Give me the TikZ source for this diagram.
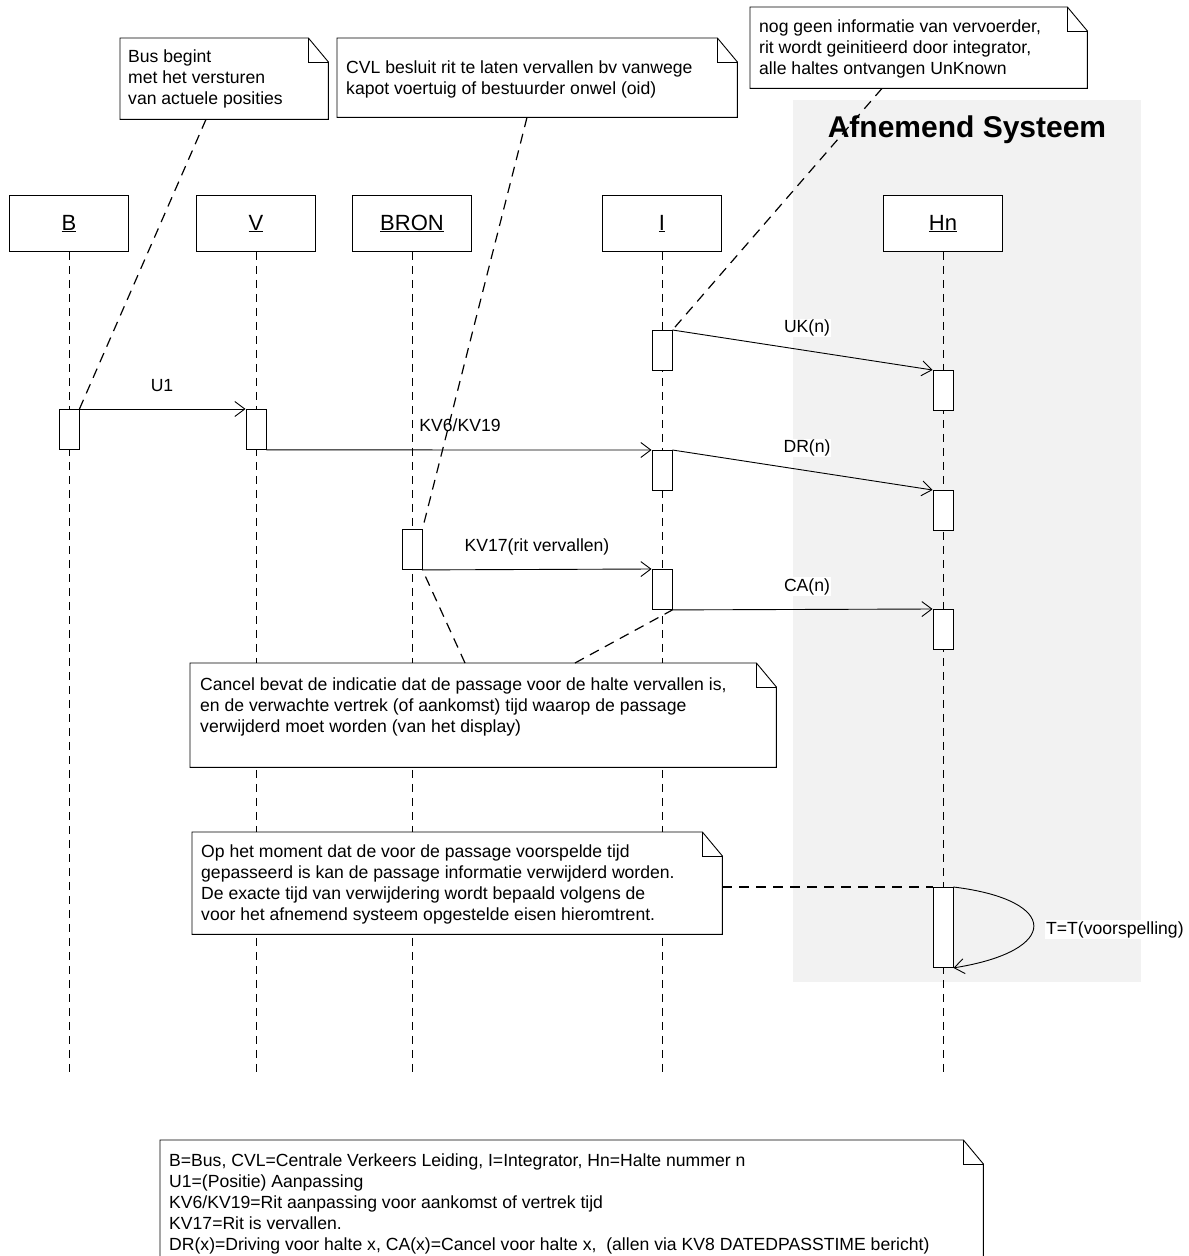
\documentclass[tikz,border=0pt]{standalone}
\usepackage{fontspec}
\setmainfont{Liberation Sans}
\usetikzlibrary{arrows.meta,calc}
\definecolor{sysgray}{RGB}{242,242,242}
\newcommand\dogear[1]{%
  \draw[noteline] (#1.north west) -- ([xshift=-20pt]#1.north east) -- ([yshift=-24pt]#1.north east) -- (#1.south east) -- (#1.south west) -- cycle;
  \draw[noteline] ([xshift=-20pt]#1.north east) -- ([xshift=-20pt,yshift=-24pt]#1.north east) -- ([yshift=-24pt]#1.north east);}
\begin{document}
\begin{tikzpicture}[x=1pt,y=-1pt,
  txt/.style={font=\fontsize{17.6}{20.8}\selectfont},
  head/.style={draw, fill=white, line width=0.9pt, minimum width=119pt, minimum height=56pt, inner sep=0pt, anchor=north, font=\fontsize{22}{26}\selectfont},
  life/.style={line width=0.8pt, dash pattern=on 8pt off 6pt},
  act/.style={draw, fill=white, line width=0.9pt, minimum width=20pt, minimum height=40pt, inner sep=0pt, anchor=north},
  msg/.style={line width=0.9pt, -{Straight Barb[length=10pt,width=15pt,line width=0.9pt]}},
  mlabel/.style={txt, fill=white, inner sep=1pt, anchor=base},
  link/.style={line width=1.2pt, dash pattern=on 10pt off 7pt},
  noteline/.style={line width=0.9pt},
  notebox/.style 2 args={fill=white, inner sep=0pt, anchor=north west, minimum width=#1pt, minimum height=#2pt},
  notetext/.style={txt, inner sep=0pt, anchor=north west, align=left}
]
\useasboundingbox (0,0) rectangle (1189,1256);
\fill[white] (0,0) rectangle (1189,1256);

% system region
\fill[sysgray] (793,100) rectangle (1141,982);
\node[font=\bfseries\fontsize{30}{36}\selectfont, anchor=base] (title) at (967,137.7) {Afnemend Systeem};

% lifeline heads
\coordinate (bot) at (0,1073);
\node[head] (hB) at (69,195) {\underline{B}};
\node[head] (hV) at (256,195) {\underline{V}};
\node[head] (hBR) at (412,195) {\underline{BRON}};
\node[head] (hI) at (662,195) {\underline{I}};
\node[head] (hH) at (943,195) {\underline{Hn}};

\foreach \h in {hB,hV,hBR,hI,hH}
  \draw[life] (\h.south) -- (\h.south |- bot);

% notes
\node[notebox={208}{81}] (n1) at (120,38) {};
\dogear{n1}
\node[notetext] (n1t) at (128,50) {Bus begint\\met het versturen\\van actuele posities};

\node[notebox={400}{79}] (n2) at (337,38) {};
\dogear{n2}
\node[notetext] (n2t) at (346,61) {CVL besluit rit te laten vervallen bv vanwege\\kapot voertuig of bestuurder onwel (oid)};

\node[notebox={337}{81}] (n3) at (750,7) {};
\dogear{n3}
\node[notetext] (n3t) at (759,20) {nog geen informatie van vervoerder,\\rit wordt geinitieerd door integrator,\\alle haltes ontvangen UnKnown};

\node[notebox={586}{104}] (n4) at (190,663) {};
\dogear{n4}
\node[notetext] (n4t) at (200,678) {Cancel bevat de indicatie dat de passage voor de halte vervallen is,\\en de verwachte vertrek (of aankomst) tijd waarop de passage\\verwijderd moet worden (van het display)};

\node[notebox={530}{102}] (n5) at (192,832) {};
\dogear{n5}
\node[notetext] (n5t) at (201,845) {Op het moment dat de voor de passage voorspelde tijd\\gepasseerd is kan de passage informatie verwijderd worden.\\De exacte tijd van verwijdering wordt bepaald volgens de\\voor het afnemend systeem opgestelde eisen hieromtrent.};

\node[notebox={823}{130}] (n6) at (160,1140) {};
\dogear{n6}
\node[notetext] (n6t) at (169,1154) {B=Bus, CVL=Centrale Verkeers Leiding, I=Integrator, Hn=Halte nummer n\\U1=(Positie) Aanpassing\\KV6/KV19=Rit aanpassing voor aankomst of vertrek tijd\\KV17=Rit is vervallen.\\DR(x)=Driving voor halte x, CA(x)=Cancel voor halte x,\ \ (allen via KV8 DATEDPASSTIME bericht)};

% activations
\node[act] (b1) at (69,409) {};
\node[act] (v1) at (256,409) {};
\node[act] (br1) at (412,529) {};
\node[act] (i1) at (662,330) {};
\node[act] (i2) at (662,450) {};
\node[act] (i3) at (662,569) {};
\node[act] (h1) at (943,370) {};
\node[act] (h2) at (943,490) {};
\node[act] (h3) at (943,609) {};
\node[act, minimum height=80pt] (h4) at (943,887) {};

% messages
\draw[msg] (b1.north east) -- (v1.north west);
\node[mlabel] (lU1) at (162,391.5) {U1};
\draw[msg] (v1.south east) -- (i2.north west);
\node[mlabel] (lKV6) at (460,431.5) {KV6/KV19};
\draw[msg] (i1.north east) -- (h1.north west);
\node[mlabel] (lUK) at (807,332.5) {UK(n)};
\draw[msg] (i2.north east) -- (h2.north west);
\node[mlabel] (lDR) at (807,452.5) {DR(n)};
\draw[msg] (br1.south east) -- (i3.north west);
\node[mlabel] (lKV17) at (537,551.5) {KV17(rit vervallen)};
\draw[msg] (i3.south east) -- (h3.north west);
\node[mlabel] (lCA) at (807,591) {CA(n)};
\draw[msg] (h4.north east) .. controls +(107,13) and +(107,-17) .. (h4.south east);
\node[mlabel, anchor=base west] (lT) at (1045,934) {T=T(voorspelling)};

% note links
\draw[link] ([xshift=86pt]n1.south west) -- (b1.north east);
\draw[link] ([xshift=190pt]n2.south west) -- (br1.north east);
\draw[link] ([xshift=132pt]n3.south west) -- (i1.north east);
\draw[link] ([xshift=275pt]n4.north west) -- (br1.south east);
\draw[link] ([xshift=385pt]n4.north west) -- (i3.south east);
\draw[link] (n5.east |- h4.north west) -- (h4.north west);
\end{tikzpicture}
\end{document}
